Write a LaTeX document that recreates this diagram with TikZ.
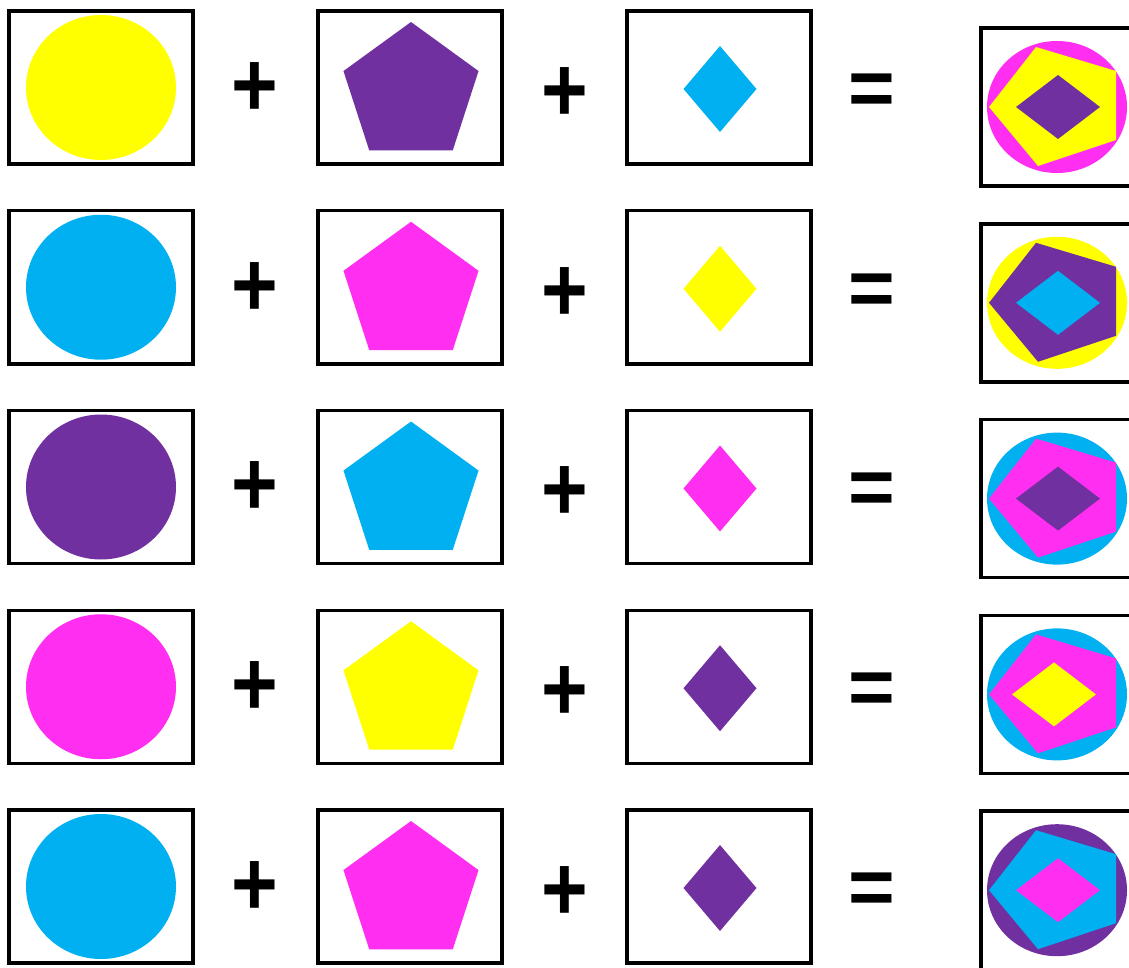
\documentclass[tikz,border=0pt]{standalone}
\usepackage{graphicx}
\usepackage{fontspec}
\setsansfont{Liberation Sans}
\definecolor{cY}{HTML}{FFFF00}
\definecolor{cP}{HTML}{7030A0}
\definecolor{cC}{HTML}{00B0F0}
\definecolor{cM}{HTML}{FF2EF0}
\tikzset{
  frame/.style={draw=black, line width=3.5pt},
  opsign/.style={font=\sffamily\bfseries\fontsize{80}{80}\selectfont, inner sep=0pt, text=black},
}
\begin{document}
\begin{tikzpicture}[x=1pt,y=-1pt]
\useasboundingbox (0,0) rectangle (1129,968);
\clip (0,0) rectangle (1129,968);
\fill[white] (0,0) rectangle (1129,968);
\foreach \i/\ca/\cb/\cc/\ra/\rb/\rc/\dx/\bb in {0/cY/cP/cC/cM/cY/cP/0/79, 1/cC/cM/cY/cY/cP/cC/0/79, 2/cP/cC/cM/cC/cM/cP/0/79, 3/cM/cY/cP/cC/cM/cY/-4/79, 4/cC/cM/cP/cP/cC/cM/0/90}{
  \pgfmathsetmacro\yc{87.5+199.75*\i}
  \pgfmathsetmacro\yp{\yc+5.5}
  \pgfmathsetmacro\yd{\yc+1.5}
  \pgfmathsetmacro\yr{107+195.8*\i}
  % circle box
  \fill[\ca] (101,\yc) ellipse [x radius=75pt, y radius=72.5pt];
  \draw[frame] (9,\yc-76.5) rectangle (193,\yc+76.5);
  % pentagon box
  \begin{scope}[shift={(411,\yp)}]
    \fill[\cb] (90:71pt) -- (162:71pt) -- (234:71pt) -- (306:71pt) -- (18:71pt) -- cycle;
  \end{scope}
  \draw[frame] (318,\yc-76.5) rectangle (502,\yc+76.5);
  % diamond box
  \fill[\cc] (683.5,\yd) -- (720,\yd-43) -- (756.5,\yd) -- (720,\yd+43) -- cycle;
  \draw[frame] (627,\yc-76.5) rectangle (811,\yc+76.5);
  % signs
  \node[opsign] (plusA\i) at (255,\yc+2) {\scalebox{1}[1.15]{+}};
  \node[opsign] (plusB\i) at (565,\yc+7) {\scalebox{1}[1.15]{+}};
  \node[opsign] (eq\i) at (872,\yc+7) {=};
  % result
  \begin{scope}[shift={(1057,\yr)}]
    \fill[\ra] (0,0) ellipse [x radius=70pt, y radius=66pt];
    \fill[\rb] (-21,-60) -- (59,-36) -- (59,33) -- (-19,59) -- (-68,0) -- cycle;
    \fill[\rc] (\dx-41,0) -- (\dx+1,-32) -- (\dx+43,0) -- (\dx+1,32) -- cycle;
    \draw[frame] (-76,-79) rectangle (83,\bb);
  \end{scope}
}
\end{tikzpicture}
\end{document}
